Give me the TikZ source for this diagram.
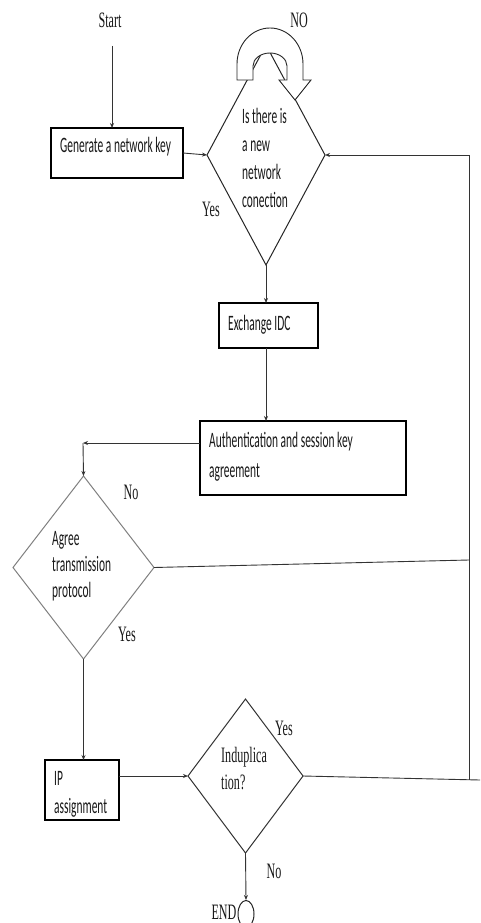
\documentclass[tikz,border=0pt]{standalone}
\usepackage{fontspec}
\newfontfamily\cf[FakeStretch=0.52]{Carlito}
\newfontfamily\tf[FakeStretch=0.55]{Liberation Serif}
\usetikzlibrary{shapes.geometric,arrows.meta}
\begin{document}
\begin{tikzpicture}[x=1pt,y=-1pt,
  boxst/.style={draw=black,line width=1.2pt,rectangle,inner sep=0,outer sep=0},
  dia/.style={draw,diamond,inner sep=0,outer sep=0,line width=1pt},
  txt/.style={font=\cf\fontsize{22}{28}\selectfont,inner sep=0,anchor=base west,align=left,text=black!90},
  lbl/.style={font=\tf\fontsize{22}{26}\selectfont,inner sep=0,text=black!90},
  con/.style={draw=black!80,line width=0.9pt},
  arr/.style={con,-{Stealth[length=5pt,width=4pt]}}]
\useasboundingbox[fill=white] (0,0) rectangle (480,923);

% main shapes
\node[boxst,minimum width=132pt,minimum height=50pt] (gen) at (117,153) {};
\node[dia,draw=black!85,minimum width=118pt,minimum height=220pt] (d1) at (266,155) {};
\node[boxst,minimum width=99pt,minimum height=45pt] (exch) at (268.5,325.5) {};
\node[boxst,minimum width=206pt,minimum height=74pt] (auth) at (303,458) {};
\node[dia,draw=black!50,minimum width=141pt,minimum height=183pt] (agree) at (83.5,567.5) {};
\node[boxst,minimum width=74pt,minimum height=60pt] (ip) at (82,790) {};
\node[dia,draw=black!80,minimum width=115pt,minimum height=154pt] (ind) at (245.5,776) {};
\node[draw=black!85,ellipse,line width=1pt,inner sep=0,minimum width=16pt,minimum height=27pt] (endc) at (246,914) {};

% texts (multi-line nodes: base = last line)
\node[txt] (tgen) at (60,153) {Generate a network key};
\node[txt] (td1) at (242,207) {Is there is\\a new\\network\\conection};
\node[txt] (texch) at (228,330) {Exchange IDC};
\node[txt] (tauth) at (209,477) {Authentication and session key\\[2pt]agreement};
\node[txt,font=\cf\fontsize{22}{26}\selectfont] (tagree) at (52,597) {Agree\\transmission\\protocol};
\node[txt] (tip) at (54,813) {IP\\assignment};
\node[txt,font=\tf\fontsize{22}{27}\selectfont] (tind) at (221,789) {Induplica\\tion?};

% labels
\node[lbl] (start) at (110,20) {Start};
\node[lbl] (lno1) at (299,20) {NO};
\node[lbl] (lyes1) at (211,209) {Yes};
\node[lbl] (lno2) at (131,492) {No};
\node[lbl] (lyes2) at (127,634) {Yes};
\node[lbl] (lyes3) at (284,728) {Yes};
\node[lbl] (lno3) at (274,871) {No};
\node[lbl] (lend) at (224,912) {END};

% U-turn block arrow
\draw[fill=white,line width=0.9pt,draw=black!85]
  (237,80) -- (237,64) arc[start angle=180,end angle=0,x radius=33pt,y radius=36pt]
  -- (303,80) -- (311,80) -- (295,100) -- (279,80) -- (287,80) -- (287,66)
  arc[start angle=0,end angle=180,x radius=17pt,y radius=13pt] -- (253,80) -- cycle;

% coordinates
\coordinate (s0) at (112,46);
\coordinate (r1) at (469,155);
\coordinate (r2) at (469,560);
\coordinate (r3) at (469,780);
\coordinate (redge) at (480,780);
\coordinate (c1) at (83,443);

% connectors
\draw[arr] (s0) -- (s0 |- gen.north);
\draw[arr] (gen.east) -- (d1.west);
\draw[arr] (d1.south) -- (d1.south |- exch.north);
\draw[arr] (d1.south |- exch.south) -- (d1.south |- auth.north);
\draw[arr] (c1 -| auth.west) -- (c1);
\draw[arr] (c1) -- (agree.north);
\draw[arr] (agree.south) -- (agree.south |- ip.north);
\draw[arr] (ip.east |- ind.west) -- (ind.west);
\draw[arr] (ind.south) -- (endc.north);
\draw[con] (r1) -- (r3);
\draw[arr] (r1) -- (d1.east);
\draw[con] (agree.east) -- (r2);
\draw[con] (ind.east) -- (redge);
\end{tikzpicture}
\end{document}
